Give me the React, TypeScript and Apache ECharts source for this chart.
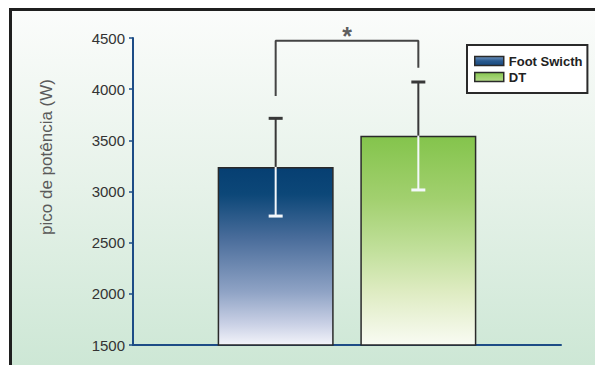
import React, { useEffect, useRef } from "react";
import * as echarts from "echarts";

// ---- data ----
const groups = ["Foot Swicth", "DT"];
const xPositions = [1, 2];
const means = [3240, 3545];
const lowerBounds = [2760, 3015];
const upperBounds = [3715, 4070];
// significance bracket: [x, y] in data units
const bracketPoints: [number, number][] = [
  [1, 3933],
  [1, 4474],
  [2, 4474],
  [2, 4210],
];
const bracketLabel = "*";
const yMin = 1500;
const yMax = 4500;
const yInterval = 500;
const yAxisTitle = "pico de potência (W)";

const FONT = "'Liberation Sans', Arial, Helvetica, sans-serif";
const AXIS_BLUE = "#1d4c86";
const DARK = "#383838";

const fsGradient = new echarts.graphic.LinearGradient(0, 0, 0, 1, [
  { offset: 0, color: "#063f72" },
  { offset: 0.15, color: "#0c4778" },
  { offset: 0.4, color: "#4a6d9b" },
  { offset: 0.7, color: "#8fa3c5" },
  { offset: 0.88, color: "#c9d0e5" },
  { offset: 1, color: "#f3f4fa" },
]);
const dtGradient = new echarts.graphic.LinearGradient(0, 0, 0, 1, [
  { offset: 0, color: "#84c44c" },
  { offset: 0.3, color: "#a2d06f" },
  { offset: 0.55, color: "#c2e09c" },
  { offset: 0.75, color: "#dfecc3" },
  { offset: 1, color: "#f9fbf3" },
]);
const barFills = [fsGradient, dtGradient];
const legendFills = [
  new echarts.graphic.LinearGradient(0, 0, 0, 1, [
    { offset: 0, color: "#6f94c0" },
    { offset: 0.5, color: "#2a5a8f" },
    { offset: 1, color: "#17497f" },
  ]),
  new echarts.graphic.LinearGradient(0, 0, 0, 1, [
    { offset: 0, color: "#86c550" },
    { offset: 1, color: "#b4da88" },
  ]),
];

export default function App() {
  const ref = useRef<HTMLDivElement>(null);

  useEffect(() => {
    if (!ref.current) return;
    const chart = echarts.init(ref.current, null, { renderer: "svg" });

    const barSeries = groups.map((name, i) => ({
      name,
      type: "bar",
      barWidth: 116,
      barGap: "-100%",
      z: 2,
      itemStyle: { color: barFills[i], borderColor: "#2a2a2a", borderWidth: 1.5 },
      data: [[xPositions[i], means[i]]],
    }));

    const errorData = groups.map((_, i) => [xPositions[i], lowerBounds[i], means[i], upperBounds[i]]);

    const option: any = {
      animation: false,
      graphic: [
        {
          type: "rect",
          z: -10,
          silent: true,
          shape: { x: 12, y: 11, width: 583, height: 354 },
          style: {
            fill: new echarts.graphic.LinearGradient(0, 0, 0, 1, [
              { offset: 0, color: "#fbfcfb" },
              { offset: 0.5, color: "#e6f2e9" },
              { offset: 1, color: "#cde7d5" },
            ]),
          },
        },
        { type: "rect", z: -5, silent: true, shape: { x: 9, y: 8, width: 586, height: 3 }, style: { fill: "#1f1f1f" } },
        { type: "rect", z: -5, silent: true, shape: { x: 9, y: 8, width: 3, height: 357 }, style: { fill: "#1f1f1f" } },
        {
          type: "text",
          x: 46,
          y: 157,
          rotation: Math.PI / 2,
          style: {
            text: yAxisTitle,
            fill: "#5a5a5a",
            font: `17px ${FONT}`,
            align: "center",
            verticalAlign: "middle",
          },
        },
      ],
      legend: {
        orient: "vertical",
        left: 467,
        top: 45,
        padding: [9, 5, 9, 7],
        itemGap: 2,
        itemWidth: 29,
        itemHeight: 9,
        backgroundColor: "#ffffff",
        borderColor: "#2a2a2a",
        borderWidth: 2,
        borderRadius: 0,
        selectedMode: false,
        textStyle: { fontSize: 13, fontWeight: "bold", color: "#222", fontFamily: FONT, lineHeight: 14 },
        data: groups.map((name, i) => ({
          name,
          icon: "rect",
          itemStyle: { color: legendFills[i], borderColor: "#2a2a2a", borderWidth: 1.5 },
        })),
      },
      grid: { left: 133, right: 34, top: 38, bottom: 20, containLabel: false },
      xAxis: {
        type: "value",
        min: 0,
        max: 3,
        axisLine: { show: true, onZero: false, lineStyle: { color: AXIS_BLUE, width: 2 } },
        axisTick: { show: false },
        axisLabel: { show: false },
        splitLine: { show: false },
      },
      yAxis: {
        type: "value",
        min: yMin,
        max: yMax,
        interval: yInterval,
        axisLine: { show: true, onZero: false, lineStyle: { color: AXIS_BLUE, width: 2 } },
        axisTick: { show: true, length: 4, lineStyle: { color: AXIS_BLUE, width: 1.5 } },
        axisLabel: {
          fontSize: 15,
          color: "#333",
          fontFamily: FONT,
          margin: 8,
          formatter: (v: number) => String(v),
        },
        splitLine: { show: false },
      },
      series: [
        ...barSeries,
        {
          type: "custom",
          z: 5,
          silent: true,
          data: errorData,
          renderItem: (_params: any, api: any) => {
            const x = api.value(0);
            const pLo = api.coord([x, api.value(1)]);
            const pMid = api.coord([x, api.value(2)]);
            const pHi = api.coord([x, api.value(3)]);
            const hw = 7;
            return {
              type: "group",
              children: [
                { type: "line", shape: { x1: pMid[0], y1: pMid[1], x2: pHi[0], y2: pHi[1] }, style: { stroke: DARK, lineWidth: 2 } },
                { type: "line", shape: { x1: pHi[0] - hw, y1: pHi[1], x2: pHi[0] + hw, y2: pHi[1] }, style: { stroke: DARK, lineWidth: 3 } },
                { type: "line", shape: { x1: pMid[0], y1: pMid[1], x2: pLo[0], y2: pLo[1] }, style: { stroke: "#f4f8fb", lineWidth: 2 } },
                { type: "line", shape: { x1: pLo[0] - hw, y1: pLo[1], x2: pLo[0] + hw, y2: pLo[1] }, style: { stroke: "#f4f8fb", lineWidth: 3 } },
              ],
            };
          },
        },
        {
          type: "line",
          z: 5,
          silent: true,
          symbol: "none",
          lineStyle: { color: "#444", width: 2 },
          data: bracketPoints,
        },
        {
          type: "scatter",
          z: 6,
          silent: true,
          symbolSize: 0,
          data: [[(bracketPoints[1][0] + bracketPoints[2][0]) / 2, bracketPoints[1][1]]],
          label: {
            show: true,
            position: "top",
            distance: -8,
            formatter: bracketLabel,
            fontSize: 25,
            fontWeight: "bold",
            color: "#333",
            fontFamily: FONT,
          },
        },
      ],
    };

    chart.setOption(option);
    return () => chart.dispose();
  }, []);

  return (
    <div
      ref={ref}
      style={{ position: "fixed", left: 0, top: 0, width: 595, height: 365, background: "#fff" }}
    />
  );
}
